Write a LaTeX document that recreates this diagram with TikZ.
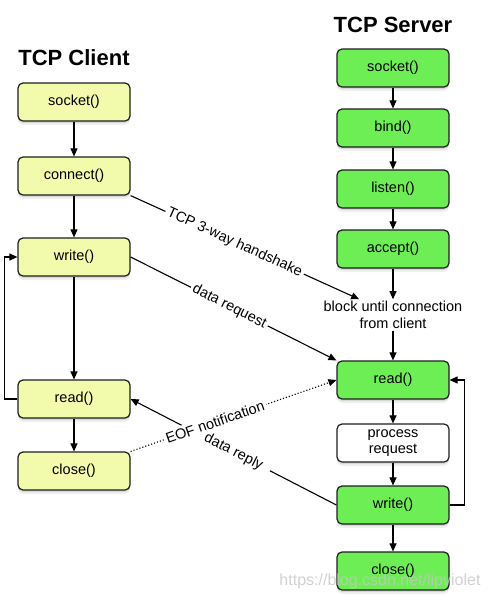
\documentclass[tikz,border=0pt]{standalone}
\usepackage{fontspec}
\setmainfont{Liberation Sans}
\usetikzlibrary{arrows.meta,shadows}
\definecolor{cyellow}{RGB}{242,250,172}
\definecolor{sgreen}{RGB}{108,238,84}
\definecolor{edge}{RGB}{30,30,30}
\begin{document}
\begin{tikzpicture}[x=1pt,y=-1pt,
  fn/.style={font=\fontsize{14.5}{16.5}\selectfont},
  box/.style={fn,draw=edge,line width=1.2pt,rounded corners=5pt,
    minimum width=112pt,minimum height=38pt,inner sep=0pt,align=center,
    drop shadow={shadow xshift=0pt,shadow yshift=-4pt,opacity=0.12},
    drop shadow={shadow xshift=0pt,shadow yshift=-2pt,opacity=0.22}},
  cbox/.style={box,fill=cyellow},
  sbox/.style={box,fill=sgreen},
  wbox/.style={box,fill=white},
  title/.style={font=\fontsize{22}{24}\selectfont\bfseries},
  conn/.style={line width=1.1pt,-{Triangle[length=8pt,width=7pt]}},
  lbl/.style={fn,sloped,fill=white,inner sep=2.5pt}
]
\useasboundingbox (0,0) rectangle (489,600);
% titles
\node[title] (ctitle) at (74,58) {TCP Client};
\node[title] (stitle) at (393,25) {TCP Server};
% client
\node[cbox] (csocket) at (74,102) {socket()};
\node[cbox] (cconnect) at (74,176) {connect()};
\node[cbox] (cwrite) at (74,257) {write()};
\node[cbox] (cread) at (74,399) {read()};
\node[cbox] (cclose) at (74,471) {close()};
% server
\node[sbox] (ssocket) at (393,68) {socket()};
\node[sbox] (sbind) at (393,128) {bind()};
\node[sbox] (slisten) at (393,189) {listen()};
\node[sbox] (saccept) at (393,249) {accept()};
\node[fn,align=center,inner sep=2pt] (block) at (393,315) {block until connection\\from client};
\node[sbox] (sread) at (393,380) {read()};
\node[wbox] (sproc) at (393,443) {process\\request};
\node[sbox] (swrite) at (393,505) {write()};
\node[sbox] (sclose) at (393,571) {close()};
% client arrows
\draw[conn] (csocket) -- (cconnect);
\draw[conn] (cconnect) -- (cwrite);
\draw[conn] (cwrite) -- (cread);
\draw[conn] (cread) -- (cclose);
\draw[conn] (cread.west) -- ++(-13,0) |- (cwrite.west);
% server arrows
\draw[conn] (ssocket) -- (sbind);
\draw[conn] (sbind) -- (slisten);
\draw[conn] (slisten) -- (saccept);
\draw[conn] (saccept) -- (block);
\draw[conn] (block) -- (sread);
\draw[conn] (sread) -- (sproc);
\draw[conn] (sproc) -- (swrite);
\draw[conn] (swrite) -- (sclose);
\draw[conn] (swrite.east) -- ++(15,0) |- (sread.east);
% cross connectors
\draw[conn] (cconnect.south east) -- node[lbl,pos=0.455] {TCP 3-way handshake} (block.155);
\draw[conn] (cwrite.east) -- node[lbl,pos=0.48] {data request} (sread.north west);
\draw[conn] (swrite.west) -- node[lbl,pos=0.50,inner xsep=9pt] {data reply} (cread.east);
\draw[conn,dotted] (cclose.north east) -- node[lbl,pos=0.41] {EOF notification} (sread.west);
% watermark
\node[font=\fontsize{16}{18}\selectfont,text=gray!45,opacity=0.8] (wm) at (380,581) {https://blog.csdn.net/lipviolet};
\end{tikzpicture}
\end{document}
